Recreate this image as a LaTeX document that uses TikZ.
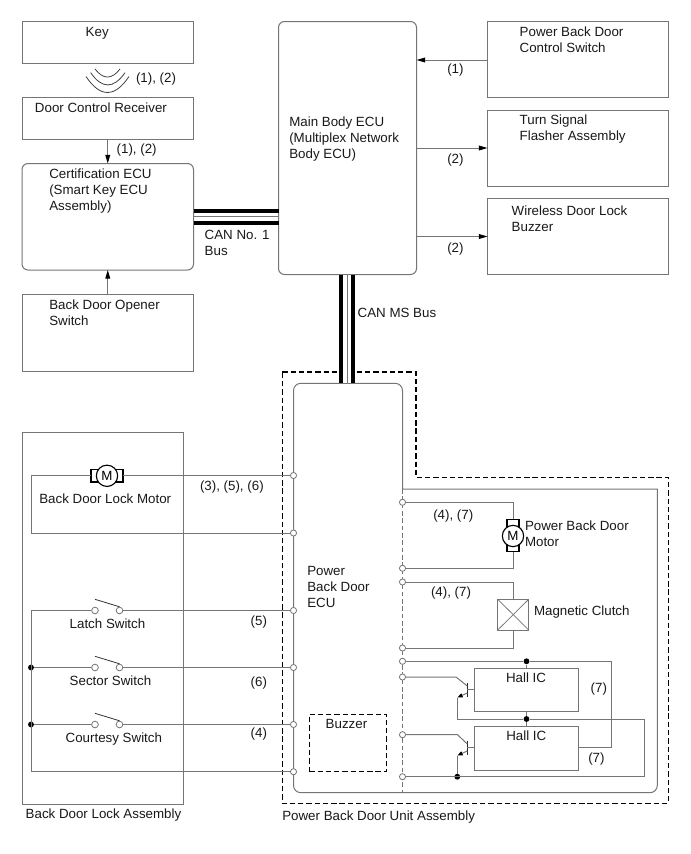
\documentclass[tikz,border=0pt]{standalone}
\usepackage{fontspec}
\setmainfont{Liberation Sans}
\usetikzlibrary{arrows.meta,fit,calc}
\definecolor{wirecol}{HTML}{757575}
\tikzset{
  wire/.style={draw=wirecol,line width=0.75pt},
  flowarrow/.style={wire,-{Triangle[length=6.5pt,width=3.6pt,black]}},
  plainbox/.style={wire,rectangle,inner sep=0pt,outer sep=0pt},
  roundbox/.style={plainbox,rounded corners=4.5pt},
  caption/.style={anchor=north west,inner sep=0pt,outer sep=0pt,align=left,font=\fontsize{10}{12}\selectfont,text=black!90},
  term/.style={circle,draw=wirecol,fill=white,line width=0.6pt,inner sep=0pt,minimum size=4.6pt},
  contact/.style={term,minimum size=5pt},
  joint/.style={circle,fill=black,inner sep=0pt,minimum size=4.4pt},
  motorsym/.style={circle,draw=black,fill=white,line width=0.85pt,inner sep=0pt,minimum size=16pt,font=\fontsize{10}{10}\selectfont},
  buscore/.style={black,line width=3pt},
  busgap/.style={white,line width=12pt},
  busmid/.style={wirecol,line width=0.6pt},
  unitedge/.style={black,line width=0.85pt,dash pattern=on 4pt off 2.2pt},
  boundary/.style={wirecol,line width=0.55pt,dash pattern=on 3.5pt off 2pt},
  radiowave/.style={black!75,line width=0.6pt},
}
\begin{document}
\begin{tikzpicture}[x=0.75pt,y=-0.75pt]
\useasboundingbox[fill=white] (0,0) rectangle (690,854);

% Upper blocks
\node[plainbox,fit={(22,21.5) (193.5,63)}] (key) {};
\node[plainbox,fit={(22,97.5) (193.5,139)}] (receiver) {};
\node[roundbox,fit={(22,163.5) (193.5,270)}] (cert) {};
\node[plainbox,fit={(22,294) (193.5,371)}] (opener) {};
\node[roundbox,fit={(278.5,21.5) (416.5,274.5)}] (main) {};
\node[plainbox,fit={(487.5,21.5) (668.5,97.5)}] (pbdswitch) {};
\node[plainbox,fit={(487.5,110) (668.5,186)}] (flasher) {};
\node[plainbox,fit={(487.5,198) (668.5,274)}] (buzzerw) {};

\node[caption] (tkey) at (85.7,27) {Key};
\node[caption] (trecv) at (35,103) {Door Control Receiver};
\node[caption] (tcert) at (49.3,169) {Certification ECU\\(Smart Key ECU\\Assembly)};
\node[caption] (topen) at (49.3,300) {Back Door Opener\\Switch};
\node[caption] (tmain) at (289.3,116.7) {Main Body ECU\\(Multiplex Network\\Body ECU)};
\node[caption] (tswitch) at (519.7,26.7) {Power Back Door\\Control Switch};
\node[caption] (tflash) at (519.7,115) {Turn Signal\\Flasher Assembly};
\node[caption] (twdl) at (511.7,206) {Wireless Door Lock\\Buzzer};

% Radio link between key and receiver
\draw[radiowave] (95,69) .. controls (103.3,79.7) and (111.7,79.7) .. (120,69);
\draw[radiowave] (90.7,72.7) .. controls (102,89) and (113.5,89) .. (125,72.7);
\draw[radiowave] (86,76.5) .. controls (100.3,97.8) and (114.7,97.8) .. (129,76.5);
\node[caption] (lkey) at (136,73) {(1), (2)};

% Signal arrows
\draw[flowarrow] (receiver.south) -- (cert.north);
\draw[flowarrow] (opener.north) -- (cert.south);
\node[caption] (lrecv) at (116.7,144) {(1), (2)};
\draw[flowarrow] (pbdswitch.west |- 0,60) -- (main.east |- 0,60);
\draw[flowarrow] (main.east |- 0,148) -- (flasher.west |- 0,148);
\draw[flowarrow] (main.east |- 0,236.5) -- (buzzerw.west |- 0,236.5);
\node[caption] (la1) at (447.3,64) {(1)};
\node[caption] (la2) at (447.3,154.3) {(2)};
\node[caption] (la3) at (447.3,243.3) {(2)};

% CAN No. 1 bus
\draw[buscore] (cert.east |- 0,211) -- (main.west |- 0,211);
\draw[buscore] (cert.east |- 0,222.7) -- (main.west |- 0,222.7);
\draw[busmid] (cert.east |- 0,216.8) -- (main.west |- 0,216.8);
\node[caption] (lcan1) at (204.7,230) {CAN No. 1\\Bus};

% Outer dashed border of the door unit
\draw[unitedge] (282.3,372) -- (416,372) -- (416,477.3) -- (668.3,477.3) -- (668.3,803.3) -- (282.3,803.3) -- cycle;

% Door unit housing and internal boundary
\draw[wire] (402.5,489) -- (402.5,390) [rounded corners=5.5pt] -- (402.5,383.3) -- (293.5,383.3) -- (293.5,792.7) -- (657.3,792.7) [sharp corners] -- (657.3,489) -- (402.5,489);
\draw[boundary] (402.5,489) -- (402.5,792.7);
\node[caption] (tecu) at (307.3,566.7) {Power\\Back Door\\ECU};

% CAN MS bus
\coordinate (busfoot) at (347,383.3);
\draw[busgap] (347,274.5) -- (busfoot);
\draw[buscore] (341.4,274.5) -- (341.4,383.3);
\draw[buscore] (353,274.5) -- (353,383.3);
\draw[busmid] (347,274.5) -- (busfoot);
\node[caption] (lcanms) at (357.7,308.3) {CAN MS Bus};

% Left assembly
\node[plainbox,fit={(22,432.7) (183.5,804)}] (lockasm) {};
\node[caption] (tlockasm) at (25.7,809) {Back Door Lock Assembly};
\node[caption] (tunit) at (282.3,811) {Power Back Door Unit Assembly};

% ECU terminals on the left side
\node[term] (tl1) at (293.5,475.5) {};
\node[term] (tl2) at (293.5,533) {};
\node[term] (tl3) at (293.5,610.5) {};
\node[term] (tl4) at (293.5,667.5) {};
\node[term] (tl5) at (293.5,724.5) {};
\node[term] (tl6) at (293.5,771.7) {};

% Lock motor
\coordinate (mc1) at (31,475.5);
\coordinate (mc2) at (31,533);
\draw[black,line width=0.85pt,fill=white] (91,469.7) rectangle (123,482);
\node[motorsym] (lockmotor) at (107,475.8) {M};
\draw[wire] (tl1) -- (123,475.5);
\draw[wire] (91,475.5) -- (mc1) -- (mc2) -- (tl2);
\node[caption] (tlm) at (39.3,494) {Back Door Lock Motor};
\node[caption] (llm) at (200,480.7) {(3), (5), (6)};

% Door switches
\node[contact] (s1a) at (95,610.5) {};
\node[contact] (s1b) at (119.5,610.5) {};
\node[contact] (s2a) at (95,667.5) {};
\node[contact] (s2b) at (119.5,667.5) {};
\node[contact] (s3a) at (95,724.5) {};
\node[contact] (s3b) at (119.5,724.5) {};
\coordinate (rail1) at (31,610.5);
\coordinate (rail4) at (31,771.7);
\node[joint] (j2) at (31,667.5) {};
\node[joint] (j3) at (31,724.5) {};
\draw[wire] (s1a) -- (rail1) -- (rail4) -- (tl6);
\draw[wire] (s2a) -- (j2);
\draw[wire] (s3a) -- (j3);
\draw[wire] (s1b) -- (tl3);
\draw[wire] (s2b) -- (tl4);
\draw[wire] (s3b) -- (tl5);
\draw[black!80,line width=0.6pt] (95,599.3) -- (s1b.north);
\draw[black!80,line width=0.6pt] (95,656.3) -- (s2b.north);
\draw[black!80,line width=0.6pt] (95,713.3) -- (s3b.north);
\node[caption] (tlatch) at (69.7,619.3) {Latch Switch};
\node[caption] (tsector) at (69.7,676.3) {Sector Switch};
\node[caption] (tcourt) at (65.7,733) {Courtesy Switch};
\node[caption] (l5) at (250.7,615.7) {(5)};
\node[caption] (l6) at (250.7,677.3) {(6)};
\node[caption] (l4) at (250.7,728.3) {(4)};

% Internal buzzer
\node[plainbox,draw=black,line width=0.85pt,dash pattern=on 4pt off 2.2pt,fit={(309.3,714.3) (386.7,771.7)}] (ecubuzzer) {};
\node[caption] (tbuzz) at (325.7,719.7) {Buzzer};

% ECU terminals on the right side
\node[term] (tr1) at (402.5,502.3) {};
\node[term] (tr2) at (402.5,568.3) {};
\node[term] (tr3) at (402.5,582) {};
\node[term] (tr4) at (402.5,648) {};
\node[term] (tr5) at (402.5,661.3) {};
\node[term] (tr6) at (402.5,677) {};
\node[term] (tr7) at (402.5,734.7) {};
\node[term] (tr8) at (402.5,776.7) {};

% Drive motor
\draw[black,line width=0.85pt,fill=white] (507,519.3) rectangle (519,551.7);
\node[motorsym] (drivemotor) at (513,536) {M};
\draw[wire] (tr1) -| (513,519.3);
\draw[wire] (tr2) -| (513,551.7);
\node[caption] (lmot) at (433.3,510) {(4), (7)};
\node[caption] (tmot) at (525,521) {Power Back Door\\Motor};

% Magnetic clutch
\node[plainbox,fit={(497.7,599.3) (528.7,630)}] (clutch) {};
\draw[wire,line width=0.55pt] (clutch.north west) -- (clutch.south east);
\draw[wire,line width=0.55pt] (clutch.north east) -- (clutch.south west);
\draw[wire] (tr3) -| (clutch.north);
\draw[wire] (tr4) -| (clutch.south);
\node[caption] (lclu) at (431,586.7) {(4), (7)};
\node[caption] (tclu) at (534,605.7) {Magnetic Clutch};

% Hall sensors
\node[plainbox,fit={(474.3,668.3) (578.7,711.7)}] (hall1) {};
\node[plainbox,fit={(474.3,726.3) (578.7,770)}] (hall2) {};
\node[caption] (thall1) at (506,673.3) {Hall IC};
\node[caption] (thall2) at (506.3,730.7) {Hall IC};
\node[caption] (lh1) at (590.7,683.3) {(7)};
\node[caption] (lh2) at (588.3,752.7) {(7)};

\node[joint] (jsup) at (526.5,661.3) {};
\node[joint] (jmid) at (526.5,719) {};
\node[joint] (jgnd) at (457.3,776.7) {};
\coordinate (hallout) at (611.3,661.3);
\coordinate (gndtop) at (644.7,719);
\coordinate (gndbot) at (644.7,776.7);
\draw[wire] (tr5) -- (jsup) -- (hallout) -- (611.3,747.3) -- (hall2.east |- 0,747.3);
\draw[wire] (jsup) -- (hall1.north -| jsup);
\draw[wire] (hall1.south -| jmid) -- (jmid) -- (hall2.north -| jmid);
\draw[wire] (jmid) -- (gndtop) -- (gndbot) -- (tr8);

% Sensor output transistors
\coordinate (base1) at (467.3,689.7);
\coordinate (base2) at (467.3,747.3);
\draw[black!85,line width=0.85pt] (467.3,682.7) -- (467.3,696.7);
\draw[black!85,line width=0.85pt] (467.3,740.7) -- (467.3,754.7);
\draw[wire] (base1) -- (hall1.west |- base1);
\draw[wire] (base2) -- (hall2.west |- base2);
\draw[wire] (tr6) -- (456,677) -- (467.3,686);
\draw[wire] (tr7) -- (457.5,734.7) -- (467.3,744);
\draw[wire,-{Triangle[length=4pt,width=3pt,black]}] (467.3,693) -- (457.3,697.5);
\draw[wire,-{Triangle[length=4pt,width=3pt,black]}] (467.3,751) -- (457.3,755.5);
\draw[wire] (457.3,697.5) -- (457.3,719) -- (jmid);
\draw[wire] (457.3,755.5) -- (jgnd);
\end{tikzpicture}
\end{document}
